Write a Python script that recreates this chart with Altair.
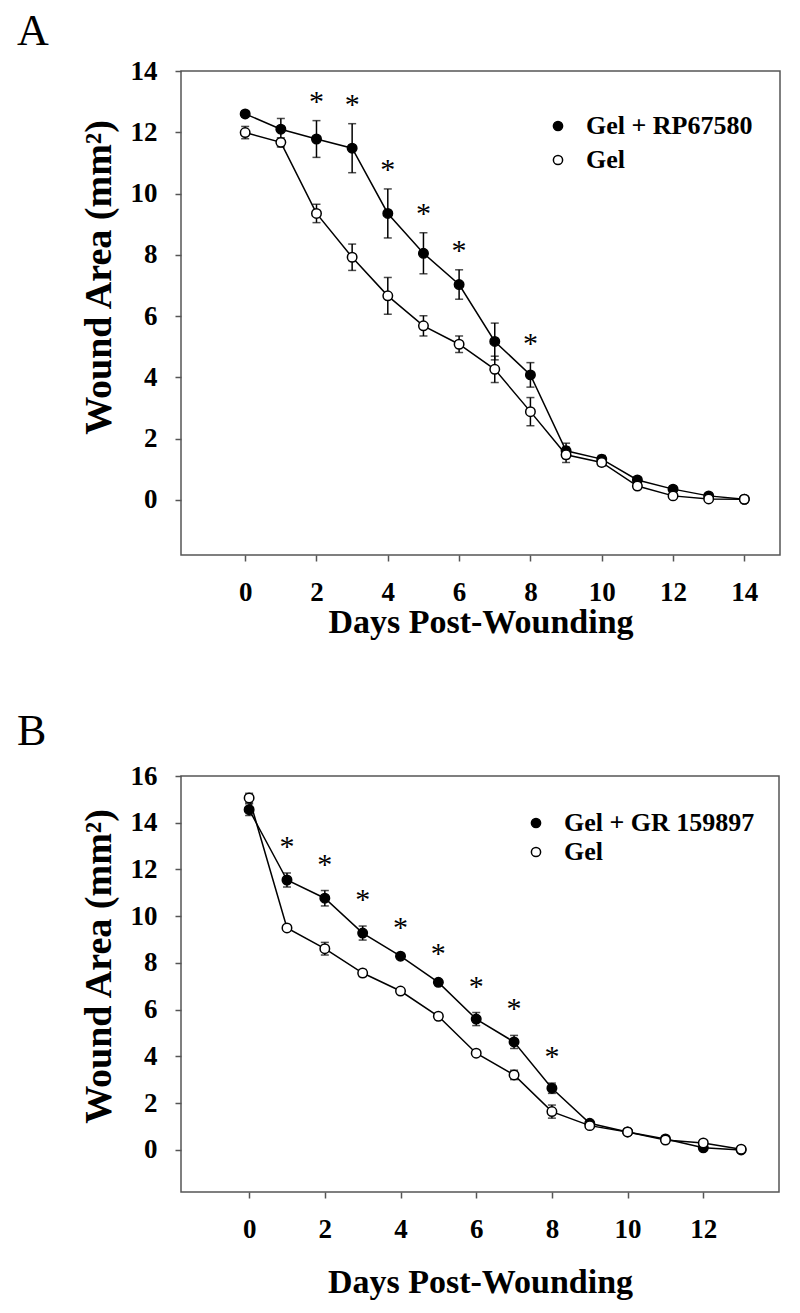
import altair as alt
import pandas as pd

# ---------------- Panel A data ----------------
days_a = list(range(15))
a_drug_label = "Gel + RP67580"
a_drug_mean = [12.60, 12.10, 11.78, 11.48, 9.35, 8.05, 7.03, 5.17, 4.08, 1.60, 1.33, 0.65, 0.35, 0.13, 0.02]
a_drug_sem = [0.10, 0.35, 0.60, 0.80, 0.80, 0.67, 0.48, 0.60, 0.40, 0.25, 0.12, 0.08, 0.05, 0.04, 0.02]
a_gel_mean = [11.99, 11.67, 9.35, 7.92, 6.66, 5.68, 5.08, 4.26, 2.88, 1.47, 1.22, 0.45, 0.13, 0.03, 0.02]
a_gel_sem = [0.20, 0.15, 0.30, 0.43, 0.60, 0.33, 0.27, 0.43, 0.46, 0.25, 0.12, 0.08, 0.05, 0.03, 0.02]
a_star_days = [2, 3, 4, 5, 6, 8]
a_x_ticks = [0, 2, 4, 6, 8, 10, 12, 14]
a_y_ticks = [0, 2, 4, 6, 8, 10, 12, 14]

# ---------------- Panel B data ----------------
days_b = list(range(14))
b_drug_label = "Gel + GR 159897"
b_drug_mean = [14.56, 11.55, 10.77, 9.28, 8.29, 7.17, 5.60, 4.62, 2.64, 1.14, 0.77, 0.47, 0.09, 0.00]
b_drug_sem = [0.25, 0.30, 0.33, 0.30, 0.10, 0.10, 0.28, 0.28, 0.22, 0.08, 0.06, 0.05, 0.05, 0.02]
b_gel_mean = [15.06, 9.50, 8.61, 7.57, 6.80, 5.72, 4.14, 3.21, 1.64, 1.04, 0.77, 0.42, 0.30, 0.03]
b_gel_sem = [0.20, 0.10, 0.27, 0.15, 0.10, 0.08, 0.10, 0.20, 0.28, 0.08, 0.06, 0.05, 0.05, 0.02]
b_star_days = [1, 2, 3, 4, 5, 6, 7, 8]
b_x_ticks = [0, 2, 4, 6, 8, 10, 12]
b_y_ticks = [0, 2, 4, 6, 8, 10, 12, 14, 16]

SERIF = "Liberation Serif"
FRAME = "#555555"


def panel(letter, days, drug_label, drug_mean, drug_sem, gel_mean, gel_sem,
          star_days, x_ticks, y_ticks, x_max, y_max, width, height,
          legend_x, legend_y, legend_row_pad, star_dy, y_title_y, x_title_y,
          title_offset):
    rows = []
    for d, m, s in zip(days, drug_mean, drug_sem):
        rows.append(dict(day=d, mean=m, lo=m - s, hi=m + s, series=drug_label, order=0))
    for d, m, s in zip(days, gel_mean, gel_sem):
        rows.append(dict(day=d, mean=m, lo=m - s, hi=m + s, series="Gel", order=1))
    df = pd.DataFrame(rows)
    star_df = pd.DataFrame({
        "day": star_days,
        "top": [drug_mean[days.index(d)] + drug_sem[days.index(d)] for d in star_days],
        "label": ["*"] * len(star_days),
    })

    xs = alt.Scale(domain=[-1.8, x_max], nice=False, zero=False)
    ys = alt.Scale(domain=[-1.8, y_max], nice=False, zero=False)
    x_axis = alt.Axis(values=x_ticks, title="Days Post-Wounding", titleX=width / 2,
                      titleY=x_title_y, titleBaseline="middle", titleAlign="center",
                      titleFontSize=34)
    y_axis = alt.Axis(values=y_ticks, title="Wound Area (mm²)", titleX=-82,
                      titleY=y_title_y, titleAngle=-90, titleBaseline="middle",
                      titleAlign="center", titleFontSize=38)

    base = alt.Chart(df)
    x = alt.X("day:Q", scale=xs, axis=x_axis)
    lines = base.mark_line(color="black", strokeWidth=1.5).encode(
        x=x, y=alt.Y("mean:Q", scale=ys, axis=y_axis), detail="series:N")
    rules = base.mark_rule(color="black", strokeWidth=1.5).encode(
        x="day:Q", y="lo:Q", y2="hi:Q")
    caps_lo = base.mark_tick(color="black", orient="horizontal", size=8, thickness=1.5).encode(
        x="day:Q", y="lo:Q")
    caps_hi = base.mark_tick(color="black", orient="horizontal", size=8, thickness=1.5).encode(
        x="day:Q", y="hi:Q")
    pts = base.mark_circle(size=90, stroke="black", strokeWidth=1.5, opacity=1).encode(
        x="day:Q", y="mean:Q",
        order=alt.Order("order:Q"),
        fill=alt.Fill("series:N",
                      scale=alt.Scale(domain=[drug_label, "Gel"], range=["black", "white"]),
                      legend=alt.Legend(title=None, orient="none", legendX=legend_x,
                                        legendY=legend_y, symbolType="circle",
                                        symbolSize=85, symbolStrokeColor="black",
                                        symbolStrokeWidth=1.5, labelFont=SERIF,
                                        labelFontSize=26, labelFontWeight="bold",
                                        labelColor="black", labelOffset=15,
                                        rowPadding=legend_row_pad, labelLimit=400,
                                        padding=0)))
    stars = alt.Chart(star_df).mark_text(font=SERIF, fontSize=30, color="black",
                                         baseline="middle", dy=star_dy).encode(
        x="day:Q", y="top:Q", text="label:N")

    return alt.layer(lines, rules, caps_lo, caps_hi, pts, stars).properties(
        width=width, height=height,
        title=alt.TitleParams(letter, anchor="start", frame="group", font=SERIF,
                              fontSize=44, fontWeight="normal", color="black",
                              offset=title_offset, dx=-164))


pa = panel("A", days_a, a_drug_label, a_drug_mean, a_drug_sem, a_gel_mean, a_gel_sem,
           a_star_days, a_x_ticks, a_y_ticks, 15.0, 14.0, 599, 484,
           364, 42, 8, -19, 206, 67, 3)
pb = panel("B", days_b, b_drug_label, b_drug_mean, b_drug_sem, b_gel_mean, b_gel_sem,
           b_star_days, b_x_ticks, b_y_ticks, 14.0, 16.0, 598, 416,
           342, 34, 3, -26, 190, 90, 8)

chart = alt.vconcat(pa, pb, spacing=69).resolve_scale(
    fill="independent", x="independent", y="independent").resolve_legend(
    fill="independent").properties(
    padding={"left": 8, "top": 1, "right": 5, "bottom": 5}).configure_view(
    stroke=FRAME, strokeWidth=1.5).configure_axis(
    grid=False, domain=False, ticks=True, tickColor=FRAME, tickWidth=1.5, tickSize=6,
    labelFont=SERIF, labelFontSize=27, labelFontWeight="bold", labelColor="black",
    labelPadding=18, titleFont=SERIF, titleFontWeight="bold",
    titleColor="black")

chart.save("out.html", embed_options={"renderer": "svg", "actions": False})
